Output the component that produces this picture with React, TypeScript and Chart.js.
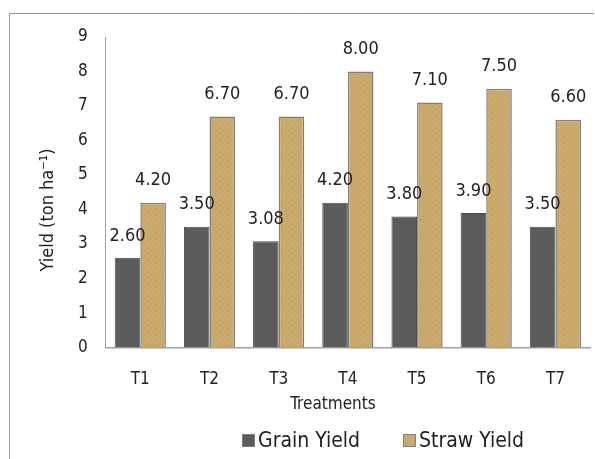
import React, { useEffect, useRef } from "react";
import { Chart, registerables } from "chart.js";

Chart.register(...registerables);

const categories = ["T1", "T2", "T3", "T4", "T5", "T6", "T7"];
const grainYield = [2.6, 3.5, 3.08, 4.2, 3.8, 3.9, 3.5];
const strawYield = [4.2, 6.7, 6.7, 8.0, 7.1, 7.5, 6.6];
const seriesNames = ["Grain Yield", "Straw Yield"];
const yTitle = "Yield (ton ha\u207B\u00B9)";
const xTitle = "Treatments";

const FONT = '"Liberation Sans Narrow", "DejaVu Sans Condensed", sans-serif';
const GRAIN = "#5b5b5b";
const STRAW = "#c9a86c";

function makeStrawPattern(): CanvasPattern | string {
  const c = document.createElement("canvas");
  c.width = 6;
  c.height = 6;
  const g = c.getContext("2d");
  if (!g) return STRAW;
  g.fillStyle = STRAW;
  g.fillRect(0, 0, 6, 6);
  g.fillStyle = "#d3b47c";
  g.fillRect(1, 1, 1, 1);
  g.fillRect(4, 3, 1, 1);
  g.fillRect(2, 5, 1, 1);
  g.fillStyle = "#c2a064";
  g.fillRect(3, 0, 1, 1);
  g.fillRect(0, 4, 1, 1);
  g.fillRect(5, 2, 1, 1);
  const p = g.createPattern(c, "repeat");
  return p || STRAW;
}

const decorPlugin = {
  id: "decor",
  afterDraw(chart: any) {
    const ctx = chart.ctx;
    ctx.save();
    // frame
    ctx.strokeStyle = "#9a9a9a";
    ctx.lineWidth = 1;
    ctx.beginPath();
    ctx.moveTo(9.5, 459);
    ctx.lineTo(9.5, 13.5);
    ctx.lineTo(594, 13.5);
    ctx.stroke();

    // value labels
    ctx.fillStyle = "#222";
    ctx.font = `18px ${FONT}`;
    ctx.textAlign = "center";
    ctx.textBaseline = "bottom";
    chart.data.datasets.forEach((ds: any, di: number) => {
      const meta = chart.getDatasetMeta(di);
      meta.data.forEach((bar: any, i: number) => {
        ctx.fillText(Number(ds.data[i]).toFixed(2), bar.x, bar.y - 13);
      });
    });

    // y title
    ctx.save();
    ctx.translate(48, 210);
    ctx.rotate(-Math.PI / 2);
    ctx.font = `18px ${FONT}`;
    ctx.textBaseline = "middle";
    ctx.fillStyle = "#222";
    ctx.fillText(yTitle, 0, 0);
    ctx.restore();

    // x title
    ctx.font = `17px ${FONT}`;
    ctx.textBaseline = "middle";
    ctx.fillText(xTitle, 333, 405);

    // legend
    ctx.textAlign = "left";
    ctx.font = `21px ${FONT}`;
    const ly = 441;
    const items = [
      { x: 242, fill: GRAIN as any, text: seriesNames[0] },
      { x: 403, fill: chart.data.datasets[1].backgroundColor, text: seriesNames[1] },
    ];
    items.forEach((it) => {
      ctx.fillStyle = it.fill;
      ctx.fillRect(it.x, ly - 7, 13, 13);
      ctx.strokeStyle = "#808080";
      ctx.strokeRect(it.x + 0.5, ly - 6.5, 12, 12);
      ctx.fillStyle = "#222";
      ctx.fillText(it.text, it.x + 16, ly + 1);
    });
    ctx.restore();
  },
};

export default function App() {
  const ref = useRef<HTMLCanvasElement | null>(null);
  useEffect(() => {
    document.body.style.margin = "0";
    if (!ref.current) return;
    const strawFill = makeStrawPattern();
    const chart = new Chart(ref.current, {
      type: "bar",
      data: {
        labels: categories,
        datasets: [
          {
            label: seriesNames[0],
            data: grainYield,
            backgroundColor: GRAIN,
            borderColor: "#4a4a4a",
            borderWidth: 1,
          },
          {
            label: seriesNames[1],
            data: strawYield,
            backgroundColor: strawFill as any,
            borderColor: "#808080",
            borderWidth: 1.5,
          },
        ],
      },
      options: {
        responsive: false,
        animation: false,
        layout: { padding: { top: 37, right: 5, left: 68, bottom: 55 } },
        plugins: {
          legend: { display: false },
          tooltip: { enabled: false },
          title: { display: false },
        },
        datasets: {
          bar: { categoryPercentage: 0.74, barPercentage: 1 },
        },
        scales: {
          x: {
            grid: { display: false },
            border: { display: true, color: "#a0a0a0", width: 1.5 },
            ticks: {
              color: "#222",
              font: { family: FONT, size: 17 },
              padding: 14,
            },
          },
          y: {
            min: 0,
            max: 9,
            grid: { display: false },
            border: { display: true, color: "#a0a0a0", width: 1 },
            ticks: {
              stepSize: 1,
              color: "#222",
              font: { family: FONT, size: 17 },
              padding: 10,
            },
          },
        },
      },
      plugins: [decorPlugin],
    });
    return () => chart.destroy();
  }, []);
  return (
    <div style={{ width: 595, height: 459, background: "#fff" }}>
      <canvas ref={ref} width={595} height={459} style={{ width: 595, height: 459 }} />
    </div>
  );
}
